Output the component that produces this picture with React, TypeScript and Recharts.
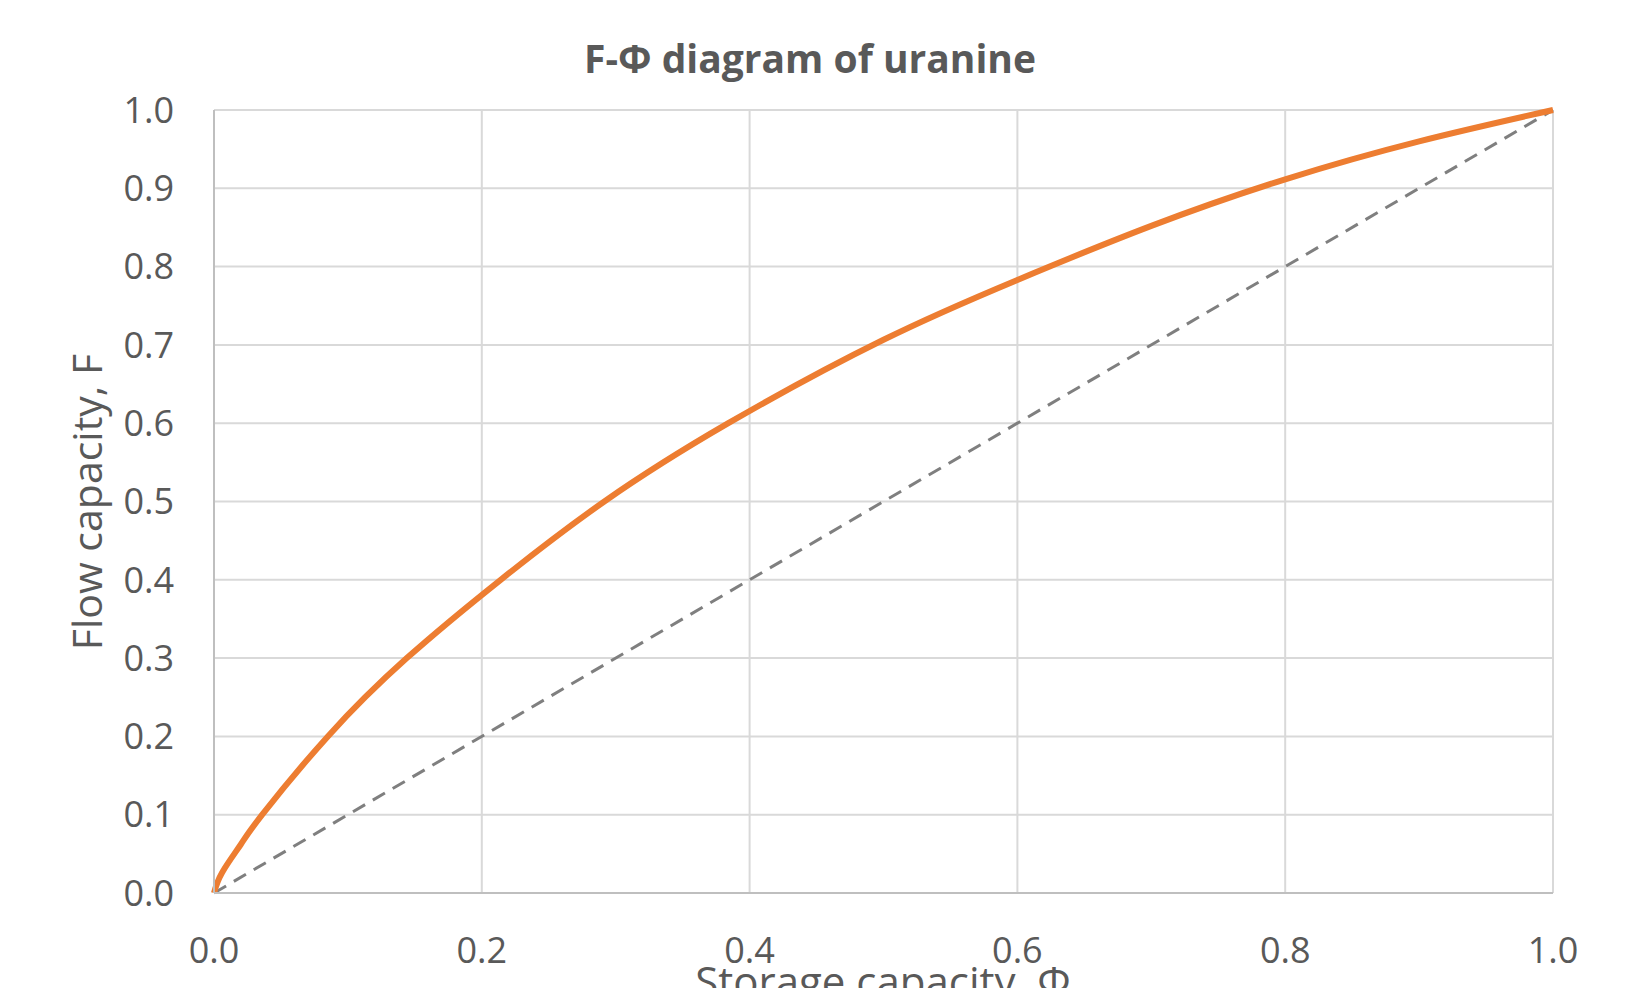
import { LineChart, Line, XAxis, YAxis, CartesianGrid } from 'recharts'

const storage = [0, 0.006, 0.02, 0.036, 0.085, 0.144, 0.2141, 0.2915, 0.3841, 0.5, 0.6, 0.7, 0.8, 0.9, 1.0]
const flow = [0, 0.026, 0.062, 0.1, 0.2, 0.3, 0.4, 0.5, 0.6, 0.7066, 0.783, 0.852, 0.9115, 0.96, 1.0]

const diagonalX = [0, 1]
const diagonalY = [0, 1]

const xTicks = [0, 0.2, 0.4, 0.6, 0.8, 1.0]
const yTicks = [0, 0.1, 0.2, 0.3, 0.4, 0.5, 0.6, 0.7, 0.8, 0.9, 1.0]

const curveData = storage.map((x, i) => ({ x, y: flow[i] }))
const diagonalData = diagonalX.map((x, i) => ({ x, y: diagonalY[i] }))

const textColor = '#595959'
const font = '"Open Sans", "Noto Sans", sans-serif'

export default function App() {
  return (
    <div style={{ position: 'absolute', left: 0, top: 0, width: 1633, height: 988, overflow: 'hidden', background: '#fff', fontFamily: font }}>
      <LineChart width={1633} height={988} margin={{ top: 110, right: 80, bottom: 35, left: 114 }}>
        <CartesianGrid stroke="#d9d9d9" strokeWidth={2} />
        <XAxis
          type="number"
          dataKey="x"
          domain={[0, 1]}
          ticks={xTicks}
          tickFormatter={(v) => Number(v).toFixed(1)}
          height={60}
          tickLine={false}
          tickSize={0}
          tickMargin={44}
          axisLine={{ stroke: '#bfbfbf', strokeWidth: 2 }}
          tick={{ fontSize: 36, fill: textColor, fontFamily: font }}
          allowDuplicatedCategory={false}
        />
        <YAxis
          type="number"
          dataKey="y"
          domain={[0, 1]}
          ticks={yTicks}
          tickFormatter={(v) => Number(v).toFixed(1)}
          width={100}
          tickLine={false}
          tickSize={0}
          tickMargin={40}
          axisLine={{ stroke: '#bfbfbf', strokeWidth: 2 }}
          tick={{ fontSize: 36, fill: textColor, fontFamily: font }}
        />
        <Line
          data={diagonalData}
          type="linear"
          dataKey="y"
          stroke="#7f7f7f"
          strokeWidth={3}
          strokeDasharray="14 9"
          dot={false}
          isAnimationActive={false}
        />
        <Line
          data={curveData}
          type="natural"
          dataKey="y"
          stroke="#ed7d31"
          strokeWidth={6}
          dot={false}
          isAnimationActive={false}
        />
      </LineChart>

      <div style={{ position: 'absolute', left: 0, top: 40, width: 1620, textAlign: 'center', fontSize: 39, lineHeight: '36px', fontWeight: 700, color: textColor }}>
        F-Φ diagram of uranine
      </div>
      <div style={{ position: 'absolute', left: 86, top: 502, transform: 'translate(-50%, -50%) rotate(-90deg)', whiteSpace: 'nowrap', fontSize: 41, lineHeight: '36px', color: textColor }}>
        Flow capacity, F
      </div>
      <div style={{ position: 'absolute', left: 883, top: 963, transform: 'translateX(-50%)', whiteSpace: 'nowrap', fontSize: 42, lineHeight: '36px', color: textColor }}>
        Storage capacity, Φ
      </div>
    </div>
  )
}
